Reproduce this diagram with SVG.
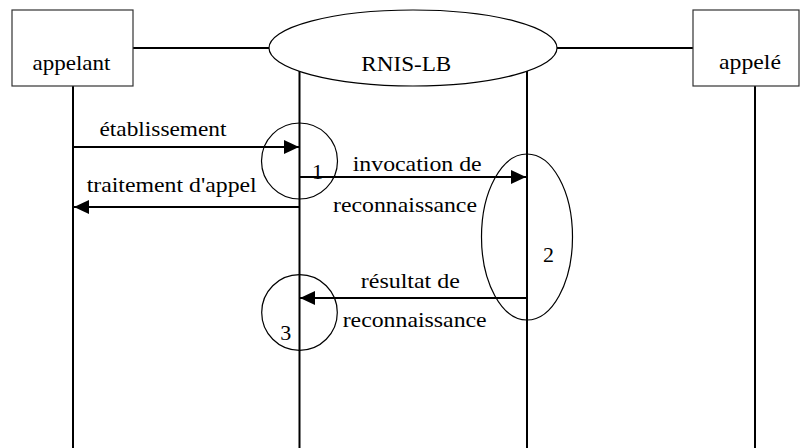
<svg xmlns="http://www.w3.org/2000/svg" width="802" height="448" viewBox="0 0 802 448">
<style>
.box{fill:#fff;stroke:#333;stroke-width:1.2}
.ell{fill:#fff;stroke:#000;stroke-width:1.2}
.thin{fill:none;stroke:#000;stroke-width:1.2}
.ln{stroke:#000;stroke-width:2;fill:none}
.t{font-family:'Liberation Serif','DejaVu Serif',serif;font-size:22px;fill:#000;text-anchor:middle}
</style>
<defs>
<marker id="ah" markerWidth="16" markerHeight="14" refX="15" refY="7" orient="auto" markerUnits="userSpaceOnUse">
<path d="M0,0 L15,7 L0,14 Z" fill="#000"/>
</marker>
</defs>
<g id="connectors">
<line class="ln" x1="133" y1="48" x2="269" y2="48"/>
<line class="ln" x1="557" y1="48" x2="693" y2="48"/>
<line class="ln" x1="73" y1="86" x2="73" y2="448"/>
<line class="ln" x1="299.5" y1="71" x2="299.5" y2="448"/>
<line class="ln" x1="527" y1="71" x2="527" y2="448"/>
<line class="ln" x1="755" y1="86" x2="755" y2="448"/>
<line class="ln" x1="73" y1="147" x2="299" y2="147" marker-end="url(#ah)"/>
<line class="ln" x1="299" y1="207" x2="74" y2="207" marker-end="url(#ah)"/>
<line class="ln" x1="300" y1="177" x2="526" y2="177" marker-end="url(#ah)"/>
<line class="ln" x1="527" y1="298" x2="300" y2="298" marker-end="url(#ah)"/>
<text class="t" x="163" y="136" textLength="127" lengthAdjust="spacingAndGlyphs">établissement</text>
<text class="t" x="171.7" y="192" textLength="170" lengthAdjust="spacingAndGlyphs">traitement d'appel</text>
<text class="t" x="417.2" y="171" textLength="129" lengthAdjust="spacingAndGlyphs">invocation de</text>
<text class="t" x="405" y="212" textLength="144" lengthAdjust="spacingAndGlyphs">reconnaissance</text>
<text class="t" x="410.3" y="288" textLength="99" lengthAdjust="spacingAndGlyphs">résultat de</text>
<text class="t" x="414.7" y="327" textLength="144" lengthAdjust="spacingAndGlyphs">reconnaissance</text>
</g>
<g id="appelant">
<rect class="box" x="12" y="10" width="121" height="76"/>
<text class="t" x="71.5" y="70" textLength="78" lengthAdjust="spacingAndGlyphs">appelant</text>
</g>
<g id="rnis-lb">
<ellipse class="ell" cx="413" cy="48" rx="144" ry="38"/>
<text class="t" x="406.3" y="71" textLength="90" lengthAdjust="spacingAndGlyphs">RNIS-LB</text>
</g>
<g id="appele">
<rect class="box" x="693" y="10" width="106" height="76"/>
<text class="t" x="750" y="69" textLength="62" lengthAdjust="spacingAndGlyphs">appelé</text>
</g>
<g id="step1">
<circle class="thin" cx="299.5" cy="161" r="38"/>
<text class="t" x="317.5" y="179">1</text>
</g>
<g id="step2">
<ellipse class="thin" cx="527" cy="237" rx="45.5" ry="83"/>
<text class="t" x="548.5" y="262">2</text>
</g>
<g id="step3">
<circle class="thin" cx="299.5" cy="312.5" r="37.8"/>
<text class="t" x="285.7" y="340">3</text>
</g>
</svg>
